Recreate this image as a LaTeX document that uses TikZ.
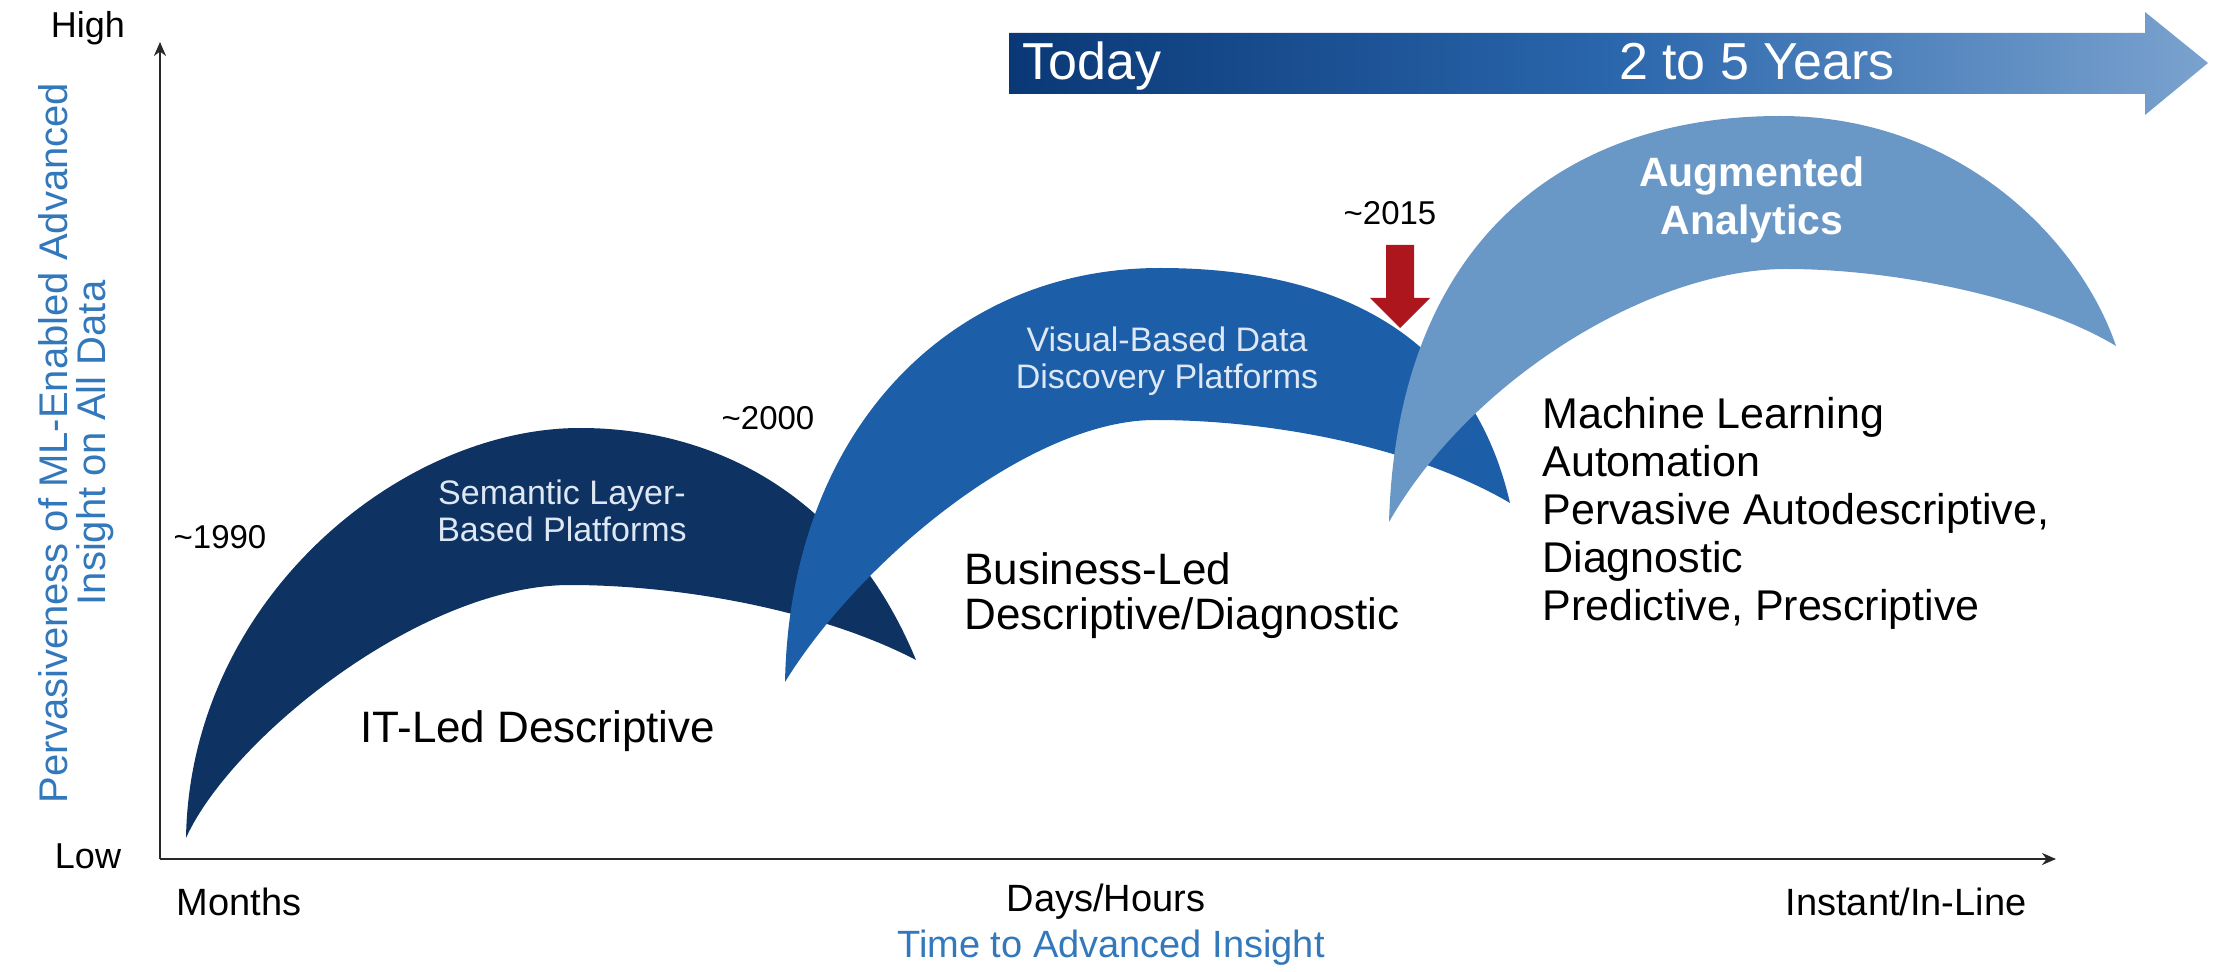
\documentclass[tikz,border=0pt]{standalone}
\usepackage{fontspec}
\setmainfont{Liberation Sans}
\usetikzlibrary{arrows.meta}
\definecolor{navy}{RGB}{14,50,98}
\definecolor{midblue}{RGB}{29,94,168}
\definecolor{lightblue}{RGB}{106,152,198}
\definecolor{labelblue}{RGB}{52,120,188}
\definecolor{paletext}{RGB}{222,232,244}
\definecolor{darkred}{RGB}{172,22,28}
\definecolor{bannerL}{RGB}{10,56,118}
\definecolor{bannerM}{RGB}{42,102,172}
\definecolor{bannerR}{RGB}{122,162,206}
\definecolor{axisgray}{RGB}{40,40,40}
\begin{document}
\begin{tikzpicture}[x=0.5pt,y=-0.5pt,
  inlbl/.style={inner sep=0pt, align=center, text=paletext, font=\fontsize{17}{18.5}\selectfont},
  yearlbl/.style={inner sep=0pt, text=black, font=\fontsize{16.5}{19}\selectfont},
  biglbl/.style={inner sep=0pt, align=left, text=black, font=\fontsize{22}{22.5}\selectfont},
  axlbl/.style={inner sep=0pt, text=black, font=\fontsize{19}{22}\selectfont},
  bluelbl/.style={inner sep=0pt, align=center, text=labelblue, font=\fontsize{19}{21}\selectfont},
  bannerlbl/.style={inner sep=0pt, text=white, font=\fontsize{26}{30}\selectfont},
  axisline/.style={draw=axisgray, line width=1.3pt, -{Stealth[length=7pt,width=6pt]}}
]
\useasboundingbox (0,0) rectangle (2226,972);

% banner arrow
\shade[left color=bannerL, right color=bannerR, middle color=bannerM]
  (1009,33) -- (2145,33) -- (2145,12) -- (2208,63) -- (2145,115) -- (2145,94) -- (1009,94) -- cycle;
\node[bannerlbl, anchor=base west] (today) at (1022,80) {Today};
\node[bannerlbl, anchor=base] (years) at (1757,80) {2 to 5 Years};

% axes
\coordinate (O) at (160,859);
\coordinate (Ytop) at (160,42);
\coordinate (Xend) at (2056,859);
\draw[axisline] (O) -- (Ytop);
\draw[axisline] (O) -- (Xend);

% arc 1
\fill[navy] (186,838) .. controls (190,600) and (400,428) .. (580,428)
  .. controls (720,428) and (850,500) .. (916,660)
  .. controls (820,610) and (680,585) .. (570,585)
  .. controls (420,585) and (230,740) .. (186,838) -- cycle;
% arc 2
\fill[midblue] (785,682) .. controls (790,430) and (950,268) .. (1160,268)
  .. controls (1330,268) and (1470,330) .. (1510,503)
  .. controls (1420,450) and (1280,420) .. (1155,420)
  .. controls (1030,420) and (860,560) .. (785,682) -- cycle;
% arc 3
\fill[lightblue] (1389,522) .. controls (1397,245) and (1560,116) .. (1780,116)
  .. controls (1960,116) and (2080,240) .. (2116,346)
  .. controls (2040,300) and (1900,269) .. (1786,269)
  .. controls (1650,269) and (1470,380) .. (1389,522) -- cycle;

% red arrow
\fill[darkred] (1386,245) -- (1414,245) -- (1414,298) -- (1430,298) -- (1400,328) -- (1370,298) -- (1386,298) -- cycle;

% arc labels
\node[inlbl] (sem) at (562,511) {Semantic Layer-\\Based Platforms};
\node[inlbl] (vis) at (1167,361) {Visual-Based Data\\Discovery Platforms};
\node[inlbl, text=white, font=\bfseries\fontsize{20.5}{24}\selectfont] (aug) at (1752,200) {Augmented\\Analytics};

% years
\node[yearlbl] (y1990) at (220,537) {\textasciitilde1990};
\node[yearlbl] (y2000) at (768,418) {\textasciitilde2000};
\node[yearlbl] (y2015) at (1390,213) {\textasciitilde2015};

% descriptions
\node[biglbl] (itled) at (538,731) {IT-Led Descriptive};
\node[biglbl, anchor=north west] (bizled) at (964,552) {Business-Led\\Descriptive/Diagnostic};
\node[biglbl, anchor=north west, font=\fontsize{21.5}{24}\selectfont] (ml) at (1542,397) {Machine Learning\\Automation\\Pervasive Autodescriptive,\\Diagnostic\\Predictive, Prescriptive};

% axis labels
\node[axlbl, font=\fontsize{18}{20}\selectfont] (high) at (88,28) {High};
\node[axlbl, font=\fontsize{18}{20}\selectfont] (low) at (88,856) {Low};
\node[axlbl] (months) at (239,902) {Months};
\node[axlbl] (days) at (1106,902) {Days/Hours};
\node[axlbl] (instant) at (1906,902) {Instant/In-Line};
\node[bluelbl] (xtitle) at (1111,948) {Time to Advanced Insight};
\node[bluelbl, rotate=90, font=\fontsize{20}{19}\selectfont] (ytitle) at (76,443) {Pervasiveness of ML-Enabled Advanced\\Insight on All Data};
\end{tikzpicture}
\end{document}
